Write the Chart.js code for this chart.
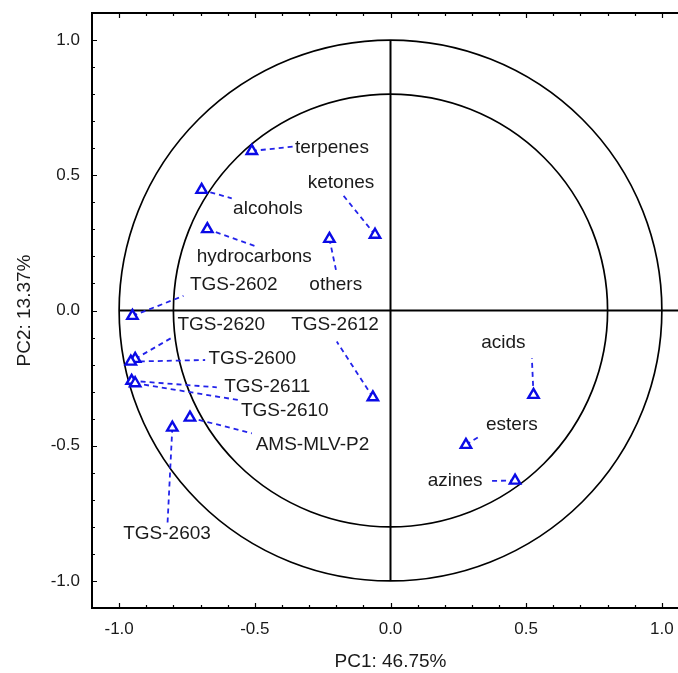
<!DOCTYPE html>
<html>
<head>
<meta charset="utf-8">
<script src="https://cdn.jsdelivr.net/npm/chart.js@4.4.1/dist/chart.umd.min.js"></script>
<style>
  html, body { margin: 0; padding: 0; background: #fff; overflow: hidden; }
  #wrap { width: 700px; height: 673px; }
</style>
</head>
<body>
<div id="wrap"><canvas id="pca" width="700" height="673"></canvas></div>
<script>
// loadings
const names = ["terpenes", "alcohols", "hydrocarbons", "others", "ketones",
    "TGS-2602", "TGS-2620", "TGS-2600", "TGS-2611", "TGS-2610",
    "AMS-MLV-P2", "TGS-2603", "TGS-2612", "acids", "esters", "azines"];
const pc1 = [-0.511, -0.696, -0.675, -0.225, -0.057,
    -0.951, -0.941, -0.957, -0.954, -0.941,
    -0.739, -0.804, -0.065, 0.527, 0.278, 0.459];
const pc2 = [0.590, 0.446, 0.301, 0.265, 0.280,
    -0.020, -0.179, -0.189, -0.260, -0.269,
    -0.396, -0.433, -0.321, -0.312, -0.497, -0.629];

// far end of each dashed leader (near its label)
const leadX = [-0.358, -0.585, -0.493, -0.201, -0.180,
    -0.763, -0.800, -0.683, -0.640, -0.561,
    -0.511, -0.822, -0.198, 0.521, 0.330, 0.367];
const leadY = [0.606, 0.415, 0.236, 0.150, 0.433,
    0.054, -0.097, -0.183, -0.284, -0.331,
    -0.454, -0.793, -0.115, -0.177, -0.464, -0.630];

// where each label starts (left edge, vertical middle)
const labelX = [-0.352, -0.580, -0.714, -0.299, -0.305,
    -0.739, -0.785, -0.671, -0.613, -0.551,
    -0.497, -0.985, -0.366, 0.334, 0.352, 0.137];
const labelY = [0.601, 0.378, 0.199, 0.097, 0.473,
    0.097, -0.051, -0.177, -0.282, -0.372,
    -0.495, -0.826, -0.054, -0.121, -0.423, -0.630];

const axisTicks = [-1.0, -0.5, 0.0, 0.5, 1.0];
const circleRadii = [1.0, 0.8];

const BLUE = "#0a0ae6";
const TEXT = "#1a1a1a";
const FONT = '"Liberation Sans", Arial, sans-serif';

const datasets = [{
    label: "loadings",
    data: pc1.map((x, i) => ({ x: x, y: pc2[i] })),
    showLine: false,
    pointStyle: "triangle",
    pointRadius: 6,
    pointBorderWidth: 2.4,
    pointBorderColor: BLUE,
    pointBackgroundColor: "#fff"
}];
for (let i = 0; i < names.length; i++) {
    datasets.push({
        label: names[i] + " leader",
        data: [{ x: pc1[i], y: pc2[i] }, { x: leadX[i], y: leadY[i] }],
        showLine: true,
        borderColor: "#2323ea",
        borderWidth: 1.8,
        borderDash: [5, 4],
        pointRadius: 0,
        tension: 0
    });
}

const decor = {
    id: "decor",
    beforeDatasetsDraw(chart) {
        const ctx = chart.ctx;
        const area = chart.chartArea;
        const xs = chart.scales.x, ys = chart.scales.y;
        const cx = xs.getPixelForValue(0), cy = ys.getPixelForValue(0);
        ctx.save();
        ctx.beginPath();
        ctx.rect(area.left, area.top, area.right - area.left, area.bottom - area.top);
        ctx.clip();

        // circles
        ctx.strokeStyle = "#000";
        ctx.lineWidth = 1.7;
        circleRadii.forEach(r => {
            const rx = xs.getPixelForValue(r) - cx;
            const ry = cy - ys.getPixelForValue(r);
            ctx.beginPath();
            ctx.ellipse(cx, cy, rx, ry, 0, 0, Math.PI * 2);
            ctx.stroke();
        });

        // zero lines
        ctx.lineWidth = 2;
        ctx.beginPath();
        ctx.moveTo(cx, ys.getPixelForValue(1));
        ctx.lineTo(cx, ys.getPixelForValue(-1));
        ctx.moveTo(xs.getPixelForValue(-1), cy);
        ctx.lineTo(area.right, cy);
        ctx.stroke();
        ctx.restore();

        // frame
        ctx.save();
        ctx.strokeStyle = "#000";
        ctx.lineWidth = 2;
        ctx.beginPath();
        ctx.moveTo(area.right + 5, area.top);
        ctx.lineTo(area.left, area.top);
        ctx.lineTo(area.left, area.bottom);
        ctx.lineTo(area.right + 5, area.bottom);
        ctx.stroke();

        // inward tick marks every 0.1
        ctx.lineWidth = 1.2;
        ctx.beginPath();
        for (let i = -10; i <= 10; i++) {
            const len = i % 5 === 0 ? 5 : 3;
            const px = Math.round(xs.getPixelForValue(i / 10)) + 0.5;
            ctx.moveTo(px, area.bottom);
            ctx.lineTo(px, area.bottom - len);
            ctx.moveTo(px, area.top);
            ctx.lineTo(px, area.top + len);
            const py = Math.round(ys.getPixelForValue(i / 10)) + 0.5;
            ctx.moveTo(area.left, py);
            ctx.lineTo(area.left + len, py);
        }
        ctx.stroke();
        ctx.restore();
    },
    afterDatasetsDraw(chart) {
        const ctx = chart.ctx;
        const xs = chart.scales.x, ys = chart.scales.y;
        ctx.save();
        ctx.fillStyle = TEXT;
        ctx.font = "19px " + FONT;
        ctx.textAlign = "left";
        ctx.textBaseline = "middle";
        names.forEach((n, i) => {
            ctx.fillText(n, xs.getPixelForValue(labelX[i]), ys.getPixelForValue(labelY[i]));
        });
        ctx.restore();
    }
};

new Chart(document.getElementById("pca"), {
    type: "scatter",
    data: { datasets: datasets },
    options: {
        responsive: false,
        animation: false,
        layout: { padding: { top: 13, right: 11, left: 0, bottom: 0 } },
        plugins: {
            legend: { display: false },
            tooltip: { enabled: false }
        },
        scales: {
            x: {
                type: "linear",
                min: -1.1,
                max: 1.1,
                afterBuildTicks: s => { s.ticks = axisTicks.map(v => ({ value: v })); },
                afterFit: s => { s.height = 65; s.paddingLeft = 0; s.paddingRight = 0; },
                grid: { display: false, drawTicks: false },
                border: { display: false },
                ticks: {
                    callback: v => v.toFixed(1),
                    color: TEXT,
                    font: { family: FONT, size: 17 },
                    padding: 11,
                    maxRotation: 0,
                    autoSkip: false
                },
                title: {
                    display: true,
                    text: "PC1: 46.75%",
                    color: TEXT,
                    font: { family: FONT, size: 19 },
                    padding: 0
                }
            },
            y: {
                type: "linear",
                min: -1.1,
                max: 1.1,
                afterBuildTicks: s => { s.ticks = axisTicks.map(v => ({ value: v })); },
                afterFit: s => { s.width = 92; s.paddingTop = 0; s.paddingBottom = 0; },
                grid: { display: false, drawTicks: false },
                border: { display: false },
                ticks: {
                    callback: v => v.toFixed(1),
                    color: TEXT,
                    font: { family: FONT, size: 17 },
                    padding: 12,
                    autoSkip: false
                },
                title: {
                    display: true,
                    text: "PC2: 13.37%",
                    color: TEXT,
                    font: { family: FONT, size: 19 },
                    padding: { top: 13, bottom: 0 }
                }
            }
        }
    },
    plugins: [decor]
});
</script>
</body>
</html>
